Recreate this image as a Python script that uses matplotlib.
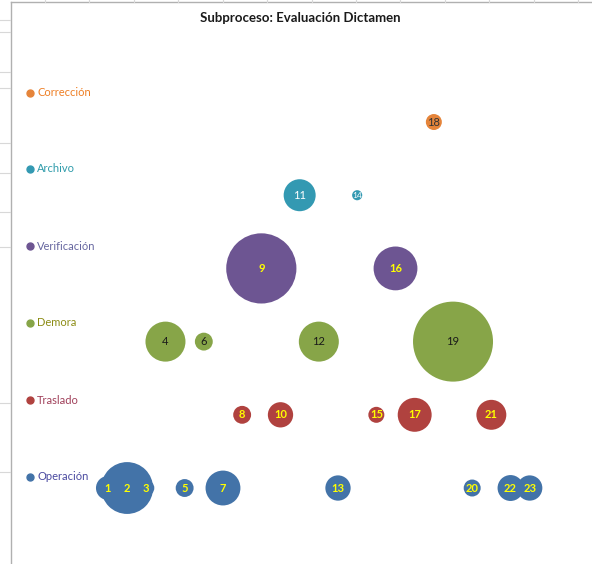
import matplotlib
matplotlib.use("Agg")
import matplotlib.pyplot as plt
from matplotlib.lines import Line2D

plt.rcParams['font.family'] = ['Lato', 'DejaVu Sans']

title = "Subproceso: Evaluación Dictamen"

# categories (bottom to top)
categories = ["Operación", "Traslado", "Demora", "Verificación", "Archivo", "Corrección"]
cat_colors = ["#4373A8", "#B0423F", "#87A548", "#6D5592", "#3399B2", "#E5843A"]
legend_text_colors = ["#4A4AA0", "#A0405A", "#8C8C14", "#6767A0", "#2E9BAA", "#EE7E24"]

# bubble step numbers, their category row and bubble size value
steps = [1, 2, 3, 4, 5, 6, 7, 8, 9, 10, 11, 12, 13, 14, 15, 16, 17, 18, 19, 20, 21, 22, 23]
step_cat = ["Operación", "Operación", "Operación", "Demora", "Operación", "Demora",
            "Operación", "Traslado", "Verificación", "Traslado", "Archivo", "Demora",
            "Operación", "Archivo", "Traslado", "Verificación", "Traslado", "Corrección",
            "Demora", "Operación", "Traslado", "Operación", "Operación"]
sizes = [9, 42, 4, 25, 5, 5, 19, 5, 77, 10, 16, 25, 10, 1.6, 4, 30, 18, 4, 100, 4.5, 14, 10.5, 10]
label_colors = {"Operación": "#FFFF00", "Traslado": "#FFFF00", "Demora": "#1A1A1A",
                "Verificación": "#FFFF00", "Archivo": "#FFFFFF", "Corrección": "#333333"}

fig = plt.figure(figsize=(5.92, 5.64), dpi=100)
ax = fig.add_axes([0, 0, 1, 1])
ax.set_xlim(-4.632, 26.25)
ax.set_ylim(-0.038, 7.667)
ax.axis('off')

cat_y = {c: i + 1 for i, c in enumerate(categories)}
cat_col = dict(zip(categories, cat_colors))

scale = (8 * 0.72) ** 2
for s, c, v in zip(steps, step_cat, sizes):
    ax.scatter([s], [cat_y[c]], s=[v * scale], color=cat_col[c], edgecolors='none', zorder=2)
for s, c, v in zip(steps, step_cat, sizes):
    fs = 8 if v > 3 else 6
    ax.text(s, cat_y[c], str(s), ha='center', va='center', fontsize=fs,
            color=label_colors[c], fontweight='bold' if label_colors[c] == "#FFFF00" else 'normal',
            zorder=3)

# title
fig.text(300 / 592, 1 - 18 / 564, title, ha='center', va='center', fontsize=9.5,
         fontweight='bold', color='#1A1A1A')

# legend (manual, left side)
leg_y = [477, 400, 323, 246, 169, 93]
for c, col, tcol, yp in zip(categories, cat_colors, legend_text_colors, leg_y):
    fy = 1 - yp / 564
    fig.add_artist(Line2D([30 / 592], [fy], marker='o', markersize=5, color=col,
                          linestyle='none', transform=fig.transFigure))
    fig.text(37 / 592, fy, c, ha='left', va='center', fontsize=8, color=tcol)

# chart frame and spreadsheet background lines
fig.add_artist(Line2D([11 / 592, 11 / 592], [0, 1 - 2 / 564], color='#B0B0B0', lw=1,
                      transform=fig.transFigure))
fig.add_artist(Line2D([11 / 592, 1], [1 - 2 / 564, 1 - 2 / 564], color='#B0B0B0', lw=1,
                      transform=fig.transFigure))
for yp in [20, 32, 72, 88, 143, 173, 212, 247, 403, 472]:
    fig.add_artist(Line2D([0, 10 / 592], [1 - yp / 564] * 2, color='#D8D8D8', lw=0.8,
                          transform=fig.transFigure))
for xp in [45, 89, 134, 178, 223, 267, 312, 356, 400, 445, 489, 534, 578]:
    fig.add_artist(Line2D([xp / 592] * 2, [1, 1 - 1.5 / 564], color='#D8D8D8', lw=0.8,
                          transform=fig.transFigure))

fig.savefig("out.png", dpi=100)
